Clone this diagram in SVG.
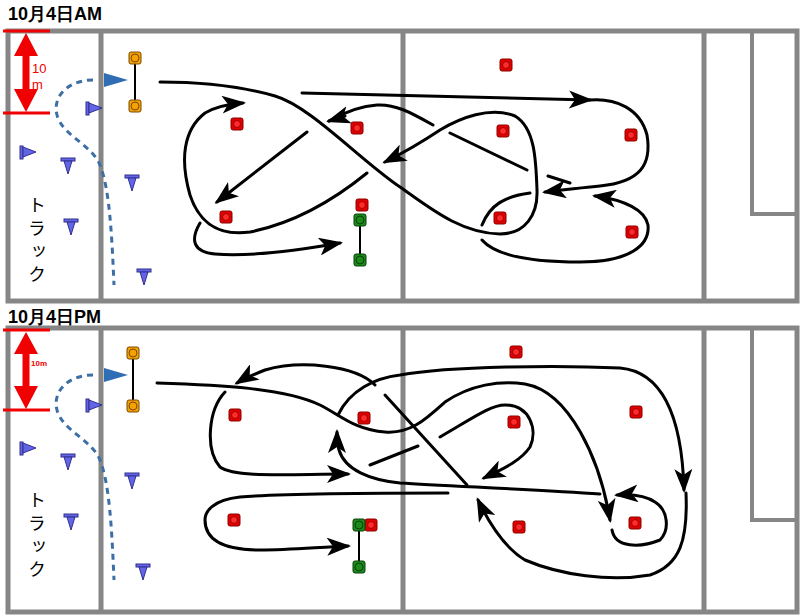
<svg xmlns="http://www.w3.org/2000/svg" width="800" height="615" viewBox="0 0 800 615">
<style>
.f{fill:none;stroke:#868686;stroke-width:5}
.g{fill:none;stroke:#868686;stroke-width:4}
.p{fill:none;stroke:#000;stroke-width:3;stroke-linecap:round}
.pa{fill:none;stroke:#000;stroke-width:3;stroke-linecap:round;marker-end:url(#ah)}
.dash{fill:none;stroke:#3d6fa6;stroke-width:3;stroke-dasharray:6,5}
.red{fill:#e00000;stroke:#8a0000;stroke-width:1}
.redi{fill:#ff2a2a;stroke:#a00000;stroke-width:1}
.org{fill:#f5a100;stroke:#7a4a00;stroke-width:1}
.grn{fill:#1a8a1a;stroke:#0a400a;stroke-width:1}
.cone{fill:#6464e6;stroke:#303090;stroke-width:1}
.dim{stroke:#f00000;stroke-width:3}
.t{font-family:"Liberation Sans",Arial,sans-serif;font-weight:bold;font-size:18px}
.jp{font-family:"Noto Sans CJK JP",sans-serif;font-size:18px;writing-mode:vertical-rl;letter-spacing:5px}
</style>
<defs>
<marker id="ah" markerWidth="8" markerHeight="6" refX="7" refY="3" orient="auto" markerUnits="strokeWidth"><path d="M0,0 L8,3 L0,6 L2,3 z" fill="#000"/></marker>
<g id="red"><rect x="-6" y="-6" width="12" height="12" rx="2" class="red"/><circle r="3.5" class="redi"/></g>
<g id="org"><rect x="-6" y="-6" width="12" height="12" rx="2" class="org"/><circle r="4" fill="none" stroke="#7a4a00"/></g>
<g id="grn"><rect x="-6" y="-6" width="12" height="12" rx="2" class="grn"/><circle r="4" fill="none" stroke="#0a400a"/></g>
<g id="cone"><rect x="-7" y="-7" width="14" height="3" class="cone"/><path d="M-4,-4 L4,-4 L0,9 z" class="cone"/></g>
<g id="flag"><rect x="-7" y="-6" width="3" height="13" class="cone"/><path d="M-4,-5 L9,0 L-4,5 z" class="cone"/></g>
</defs>

<g id="field-am">
<rect x="8" y="31" width="789" height="270" class="f"/>
<line x1="101" y1="31" x2="101" y2="301" class="f" stroke-width="6"/>
<line x1="403" y1="31" x2="403" y2="301" class="f" stroke-width="6"/>
<line x1="704" y1="31" x2="704" y2="301" class="f" stroke-width="7"/>
<rect x="752" y="31" width="45" height="183" class="g"/>
</g>
<g id="field-pm">
<rect x="8" y="328" width="789" height="284" class="f"/>
<line x1="101" y1="328" x2="101" y2="612" class="f" stroke-width="6"/>
<line x1="403" y1="328" x2="403" y2="612" class="f" stroke-width="6"/>
<line x1="704" y1="328" x2="704" y2="612" class="f" stroke-width="7"/>
<rect x="752" y="328" width="45" height="192" class="g"/>
</g>

<text x="8" y="20" class="t">10月4日AM</text>
<text x="8" y="323" class="t">10月4日PM</text>

<g id="dim-am">
<line x1="3" y1="31" x2="50" y2="31" class="dim"/>
<line x1="3" y1="113" x2="50" y2="113" class="dim"/>
<line x1="26" y1="55" x2="26" y2="90" stroke="#f00000" stroke-width="7"/>
<path d="M26,33 L14,56 L38,56 z M26,112 L14,89 L38,89 z" fill="#f00000"/>
<text x="32" y="73" font-family="Liberation Sans,sans-serif" font-size="13" fill="#f00000">10</text>
<text x="32" y="89" font-family="Liberation Sans,sans-serif" font-size="13" fill="#f00000">m</text>
</g>
<g id="dim-pm">
<line x1="3" y1="330" x2="50" y2="330" class="dim"/>
<line x1="3" y1="410" x2="50" y2="410" class="dim"/>
<line x1="26" y1="352" x2="26" y2="388" stroke="#f00000" stroke-width="7"/>
<path d="M26,332 L14,354 L38,354 z M26,409 L14,386 L38,386 z" fill="#f00000"/>
<text x="31" y="366" font-family="Liberation Sans,sans-serif" font-size="8" font-weight="bold" fill="#f00000">10m</text>
</g>

<text class="jp" x="37" y="196">トラック</text>
<text class="jp" x="37" y="491">トラック</text>

<g id="track-am">
<path d="M93,80 C70,80 52,95 57,115 C62,135 92,145 100,165 C110,190 112,240 114,285" class="dash"/>
<path d="M104,73 L128,80 L104,87 z" fill="#2f6db5"/>
<use href="#flag" x="27" y="152"/><use href="#flag" x="93" y="108"/>
<use href="#cone" x="68" y="165"/><use href="#cone" x="132" y="182"/><use href="#cone" x="71" y="226"/><use href="#cone" x="144" y="276"/>
</g>
<g id="track-pm">
<path d="M93,375 C70,375 52,390 57,410 C62,430 92,440 100,460 C110,485 112,535 114,580" class="dash"/>
<path d="M104,368 L128,375 L104,382 z" fill="#2f6db5"/>
<use href="#flag" x="27" y="448"/><use href="#flag" x="93" y="405"/>
<use href="#cone" x="68" y="461"/><use href="#cone" x="132" y="480"/><use href="#cone" x="71" y="521"/><use href="#cone" x="143" y="571"/>
</g>

<g id="gate-am">
<line x1="135" y1="58" x2="135" y2="106" stroke="#000" stroke-width="2"/>
<use href="#org" x="135" y="58"/><use href="#org" x="135" y="106"/>
<line x1="360" y1="220" x2="360" y2="260" stroke="#000" stroke-width="2"/>
<use href="#grn" x="360" y="220"/><use href="#grn" x="360" y="260"/>
</g>
<g id="gate-pm">
<line x1="133" y1="353" x2="133" y2="406" stroke="#000" stroke-width="2"/>
<use href="#org" x="133" y="353"/><use href="#org" x="133" y="406"/>
<use href="#red" x="371" y="525"/>
<line x1="359" y1="525" x2="359" y2="567" stroke="#000" stroke-width="2"/>
<use href="#grn" x="359" y="525"/><use href="#grn" x="359" y="567"/>
</g>

<g id="markers-am">
<use href="#red" x="237" y="124"/><use href="#red" x="357" y="128"/><use href="#red" x="506" y="65"/><use href="#red" x="503" y="131"/><use href="#red" x="631" y="135"/><use href="#red" x="362" y="205"/><use href="#red" x="226" y="217"/><use href="#red" x="500" y="218"/><use href="#red" x="632" y="232"/>
</g>
<g id="markers-pm">
<use href="#red" x="516" y="352"/><use href="#red" x="235" y="415"/><use href="#red" x="364" y="418"/><use href="#red" x="514" y="422"/><use href="#red" x="636" y="412"/><use href="#red" x="234" y="520"/><use href="#red" x="519" y="527"/><use href="#red" x="635" y="523"/>
</g>

<g id="connectors">
<path d="M160,82 C200,82 240,86 275,96 C310,106 360,160 400,187 C430,208 460,233 500,234 C525,234 538,215 537,190 C536,160 535,128 515,116 C490,106 460,118 440,130 C425,140 405,152 385,162" class="pa"/>
<path d="M570,183 L548,176 M527,170 L450,133 M433,125 C410,112 395,104 377,105 C360,106 345,112 329,121" class="p"/>
<path d="M345,116 L329,121" class="pa"/>
<path d="M307,132 L217,202" class="pa"/>
<path d="M367,173 C340,195 300,222 250,232 C220,236 200,225 190,195 C180,160 183,130 205,113 C215,107 230,104 243,103" class="pa"/>
<path d="M200,223 C190,240 193,252 215,254 C250,257 300,250 340,243" class="pa"/>
<path d="M302,93 L590,100" class="pa"/>
<path d="M590,100 C615,98 640,108 647,135 C652,165 640,182 600,186 C580,188 560,190 545,192" class="pa"/>
<path d="M530,193 C505,196 490,205 482,225" class="p"/>
<path d="M482,240 C495,255 530,262 580,262 C630,262 650,245 648,225 C645,210 625,200 595,196" class="pa"/>
<path d="M157,383 C220,385 285,388 320,405 C340,415 355,430 385,432 C410,434 425,420 445,402 C470,385 500,380 525,384 C570,392 600,460 610,520" class="pa"/>
<path d="M612,530 C615,548 640,548 660,540 C670,530 668,510 655,502 C645,495 630,494 617,495" class="pa"/>
<path d="M338,415 C350,390 375,378 400,375 C450,366 560,365 620,368 C665,372 682,420 684,490" class="pa"/>
<path d="M686,493 C688,540 680,565 650,575 C610,582 560,575 525,560 C505,548 490,525 478,500" class="pa"/>
<path d="M370,465 L418,446 M440,437 C470,420 490,405 505,405 C530,405 538,430 530,447 C520,462 500,470 484,478" class="pa"/>
<path d="M385,395 L467,485" class="p"/>
<path d="M375,385 C355,365 300,360 265,370 C255,374 245,378 237,383" class="pa"/>
<path d="M225,392 C208,410 205,450 220,467 C235,478 290,474 348,474" class="pa"/>
<path d="M600,494 C540,490 450,486 400,483 C370,480 345,470 339,450 C337,443 337,437 337,432" class="pa"/>
<path d="M448,493 C380,493 290,493 240,497 C212,500 205,512 205,520 C205,538 220,550 260,550 C290,550 320,547 348,546" class="pa"/>
</g>
</svg>
